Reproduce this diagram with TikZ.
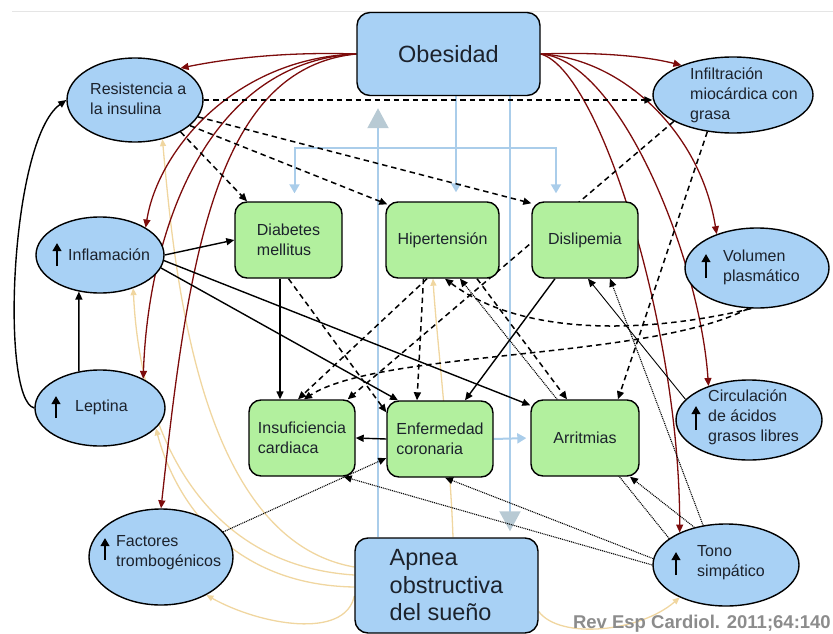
\documentclass[tikz,border=0pt]{standalone}
\usepackage{fontspec}
\setmainfont{Liberation Sans}
\usetikzlibrary{arrows.meta,shapes.geometric,backgrounds,calc}
\definecolor{nodeblue}{RGB}{168,209,245}
\definecolor{nodegreen}{RGB}{178,240,158}
\definecolor{darkred}{RGB}{125,12,12}
\definecolor{lblue}{RGB}{170,205,234}
\definecolor{tipgray}{RGB}{184,202,212}
\definecolor{apneacol}{RGB}{240,214,160}
\definecolor{txt}{RGB}{28,34,44}
\definecolor{refgray}{RGB}{140,140,140}
\begin{document}
\begin{tikzpicture}[x=1pt,y=-1pt,
  gbox/.style={rectangle, rounded corners=12pt, draw=black, line width=1.4pt, fill=nodegreen,
    align=left, inner sep=0pt, text=txt, font=\fontsize{16}{20}\selectfont, minimum height=76pt},
  bbox/.style={rectangle, rounded corners=13pt, draw=black, line width=1.4pt, fill=nodeblue,
    align=left, inner sep=0pt, text=txt, font=\fontsize{23.5}{27.5}\selectfont},
  ell/.style={ellipse, draw=black, line width=1.4pt, fill=nodeblue, inner sep=0pt},
  lbl/.style={anchor=west, align=left, inner sep=0pt, text=txt, font=\fontsize{16}{20}\selectfont},
  uparr/.style={draw=black, line width=2.2pt, -{Triangle[length=8pt,width=8.5pt]}},
  rd/.style={draw=darkred, line width=1.3pt, -{Triangle[length=8pt,width=7pt]}},
  sol/.style={draw=black, line width=1.4pt, -{Triangle[length=8pt,width=7pt]}},
  dsh/.style={sol, line width=1.5pt, dash pattern=on 5.5pt off 4pt},
  thn/.style={draw=black, line width=0.9pt, -{Triangle[length=8pt,width=7pt]}},
  dt/.style={draw=black, line width=1.1pt, dash pattern=on 1pt off 0.9pt, -{Triangle[length=8pt,width=7pt]}},
  ylw/.style={draw=apneacol, line width=1.3pt, -{Triangle[length=7pt,width=6pt]}},
  lb/.style={draw=lblue, line width=2pt},
  lbarr/.style={lb, -{Triangle[length=9pt,width=10pt]}},
  bigarr/.style={lb, -{Triangle[length=20pt,width=21pt,color=tipgray]}}
]
\useasboundingbox (0,0) rectangle (833,634);
\draw[black!10, line width=0.8pt] (12,11) -- (833,11);

% ---------- boxes ----------
\node[bbox, minimum width=183pt, minimum height=83pt] (obes) at (448.5,54) {Obesidad};
\node[bbox, minimum width=183pt, minimum height=95pt] (apnea) at (446.5,585.5) {Apnea\\obstructiva\\del sueño};
\node[gbox, minimum width=107pt] (diab) at (288.5,240) {Diabetes\\mellitus};
\node[gbox, minimum width=113pt] (hiper) at (442.5,240) {Hipertensión};
\node[gbox, minimum width=106pt] (disli) at (585,240) {Dislipemia};
\node[gbox, minimum width=106pt] (insuf) at (302,438) {Insuficiencia\\cardiaca};
\node[gbox, minimum width=106pt] (enf) at (440,439) {Enfermedad\\coronaria};
\node[gbox, minimum width=108pt] (arr) at (585,438) {Arritmias};

% ---------- ellipses ----------
\node[ell, minimum width=136pt, minimum height=84pt] (resis) at (135,100) {};
\node[ell, minimum width=160pt, minimum height=76pt] (infil) at (733,95) {};
\node[ell, minimum width=128pt, minimum height=76pt] (infl) at (100,255) {};
\node[ell, minimum width=144pt, minimum height=80pt] (vol) at (757,268) {};
\node[ell, minimum width=130pt, minimum height=76pt] (lep) at (100,408) {};
\node[ell, minimum width=146pt, minimum height=80pt] (circ) at (749,420) {};
\node[ell, minimum width=144pt, minimum height=96pt] (fact) at (161,557) {};
\node[ell, minimum width=146pt, minimum height=82pt] (tono) at (726,565) {};

\node[lbl] (resisT) at (90,99) {Resistencia a\\la insulina};
\node[lbl] (infilT) at (690,95) {Infiltración\\miocárdica con\\grasa};
\node[lbl] (inflT) at (68,255) {Inflamación};
\node[lbl] (volT) at (723,267) {Volumen\\plasmático};
\node[lbl] (lepT) at (75,407) {Leptina};
\node[lbl] (circT) at (708,417) {Circulación\\de ácidos\\grasos libres};
\node[lbl] (factT) at (116,553) {Factores\\trombogénicos};
\node[lbl] (tonoT) at (697,563) {Tono\\simpático};

\draw[uparr] ($(infl)+(-43,11)$) -- ++(0,-23);
\draw[uparr] ($(lep)+(-44,10)$) -- ++(0,-22);
\draw[uparr] ($(vol)+(-51,10)$) -- ++(0,-24);
\draw[uparr] ($(circ)+(-53,10)$) -- ++(0,-24);
\draw[uparr] ($(fact)+(-56,3)$) -- ++(0,-22);
\draw[uparr] ($(tono)+(-50,10)$) -- ++(0,-23);

\node[anchor=base east, inner sep=0pt, text=refgray, font=\bfseries\fontsize{18.5}{20}\selectfont] (ref) at (831,628) {Rev Esp Cardiol. 2011;64:140};

% ---------- connectors ----------
\begin{pgfonlayer}{background}
% yellow (apnea)
\draw[ylw] ([yshift=18.5pt]apnea.west) .. controls (200,540) and (175,280) .. (resis.-55);
\draw[ylw] ([yshift=10.5pt]apnea.west) .. controls (200,565) and (140,430) .. (infl.-45);
\draw[ylw] ([yshift=-1.5pt]apnea.west) .. controls (230,585) and (175,500) .. (lep.-20);
\draw[ylw] ([yshift=-10.5pt]apnea.west) .. controls (345,640) and (260,625) .. (fact.-40);
\draw[ylw] ([yshift=-26pt]apnea.east) .. controls (560,640) and (640,632) .. (tono.-145);
\draw[ylw] ([xshift=6.5pt]apnea.north) .. controls (450,450) and (436,330) .. ([xshift=-9.5pt]hiper.south);

% light blue
\coordinate (bh) at (456,148);
\draw[lbarr, shorten >=9pt] ([xshift=7.5pt]obes.south) -- ([xshift=13.5pt]hiper.north);
\draw[lbarr, shorten >=8pt] (bh) -| ([xshift=6pt]diab.north);
\draw[lbarr, shorten >=8pt] (bh) -| ([xshift=-29pt]disli.north);
\draw[bigarr, shorten >=6pt] ([xshift=61.5pt]obes.south) -- ([xshift=63.5pt]apnea.north);
\draw[bigarr, shorten >=12pt] ([xshift=-68.5pt]apnea.north) -- ([xshift=-70.5pt]obes.south);
\draw[lbarr, shorten >=4pt] (enf.east) -- (arr.west);

% dark red (obesidad)
\draw[rd] (obes.west) .. controls (300,52) and (240,56) .. (resis.35);
\draw[rd] (obes.west) .. controls (235,58) and (158,150) .. (infl.31);
\draw[rd] (obes.west) .. controls (205,62) and (148,235) .. (lep.34);
\draw[rd] (obes.west) .. controls (215,68) and (188,260) .. (fact.90);
\draw[rd] (obes.east) .. controls (590,52) and (640,55) .. (infil.150);
\draw[rd] (obes.east) .. controls (620,58) and (700,130) .. (vol.140);
\draw[rd] (obes.east) .. controls (620,60) and (700,260) .. (circ.140);
\draw[rd] (obes.east) .. controls (600,70) and (680,330) .. (tono.145);

% black solid
\draw[sol] (lep.120) -- (infl.240);
\draw[sol] (lep.180) .. controls (0,400) and (10,140) .. (resis.180);
\draw[sol] (infl.east) -- (diab.west);
\draw[sol] (infl.-12) -- ([xshift=-42pt]enf.north);
\draw[sol] (infl.-5) -- ([yshift=-6pt]arr.north west);
\draw[sol] ([xshift=-8.5pt]diab.south) -- ([xshift=-22pt]insuf.north);
\draw[sol] ([xshift=-30pt]disli.south) -- ([xshift=25pt]enf.north);
\draw[sol] (enf.west) -- (insuf.east);

% black dashed
\draw[dsh] (resis.east) -- (resis.east -| infil.west);
\draw[dsh] (resis.-35) -- ([xshift=-41.5pt]diab.north);
\draw[dsh] (resis.-25) -- ([xshift=2pt,yshift=-3pt]hiper.north west);
\draw[dsh] (resis.-15) -- ([yshift=-2pt]disli.north west);
\draw[dsh] (infil.204) -- ([xshift=-8pt]insuf.north east);
\draw[dsh] (infil.235) -- ([xshift=33pt]arr.north);
\draw[dsh] ([xshift=-15.5pt]hiper.south) -- ([xshift=-4pt]insuf.north);
\draw[dsh] ([xshift=-19pt]hiper.south) -- ([xshift=-23pt]enf.north);
\draw[dsh] ([xshift=34.5pt]hiper.south) -- ([xshift=-18pt]arr.north);
\draw[dsh] (diab.south) -- ([yshift=-12pt]enf.north west);
\draw[dsh] (vol.258) .. controls (650,360) and (380,350) .. ([xshift=2pt]insuf.north);
\draw[dsh] (vol.262) .. controls (640,335) and (520,335) .. ([xshift=2.5pt]hiper.south);

% thin / dotted
\draw[thn] (circ.162) -- ([xshift=3pt]disli.south);
\draw[dt] (tono.120) -- ([xshift=25pt]disli.south);
\draw[dt] (tono.155) -- ([xshift=17.5pt]hiper.south);
\draw[dt] (tono.130) -- ([xshift=45pt]arr.south);
\draw[dt] (tono.175) -- ([xshift=5pt]enf.south);
\draw[dt] (tono.180) -- ([xshift=-12pt]insuf.south east);
\draw[dt] (fact.22) -- ([yshift=-19pt]enf.west);
\end{pgfonlayer}
\end{tikzpicture}
\end{document}
